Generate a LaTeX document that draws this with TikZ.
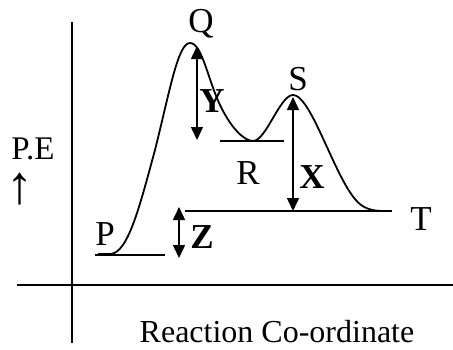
\documentclass[tikz,border=0pt]{standalone}
\usepackage{fontspec}
\setmainfont{Liberation Serif}
\usetikzlibrary{arrows.meta}
\begin{document}
\begin{tikzpicture}[x=1pt,y=-1pt,
  lbl/.style={font=\fontsize{35}{38}\selectfont, inner sep=0pt},
  blbl/.style={font=\fontsize{35}{38}\selectfont\bfseries, inner sep=0pt},
  axis/.style={line width=1.6pt},
  curve/.style={line width=1.8pt},
  level/.style={line width=1.8pt},
  dbl/.style={line width=1.5pt, {Triangle[length=13pt,width=12pt]}-{Triangle[length=13pt,width=12pt]}}]
\useasboundingbox (0,0) rectangle (453,349);
% axes
\coordinate (vt) at (72,22);
\coordinate (vb) at (72,343);
\coordinate (hl) at (17,285);
\coordinate (hr) at (453,285);
\draw[axis] (vt) -- (vb);
\draw[axis] (hl) -- (hr);
% levels
\coordinate (p1) at (95,255); \coordinate (p2) at (165,255);
\coordinate (r1) at (220,141); \coordinate (r2) at (284,141);
\coordinate (t1) at (185,211); \coordinate (t2) at (392,211);
\draw[level] (p1) -- (p2);
\draw[level] (r1) -- (r2);
\draw[level] (t1) -- (t2);
% curve
\draw[curve] (98,254) -- (110,254) .. controls (128,254) and (140,205) .. (155,150)
  .. controls (170,90) and (178,43) .. (190,43)
  .. controls (202,43) and (208,80) .. (220,105)
  .. controls (232,130) and (245,141) .. (253,141)
  .. controls (266,141) and (280,95) .. (293,95)
  .. controls (308,95) and (326,150) .. (345,184)
  .. controls (358,207) and (366,211) .. (385,211);
% arrows
\coordinate (ya) at (197,46); \coordinate (yb) at (197,140);
\coordinate (xa) at (293,97); \coordinate (xb) at (293,211);
\coordinate (za) at (179,207); \coordinate (zb) at (179,258);
\draw[dbl] (ya) -- (yb);
\draw[dbl] (xa) -- (xb);
\draw[dbl] (za) -- (zb);
% labels
\node[lbl] (Q) at (201,24) {Q};
\node[lbl] (S) at (298,79) {S};
\node[blbl] (Y) at (212,101) {Y};
\node[lbl] (R) at (248,173) {R};
\node[blbl] (X) at (312,177) {X};
\node[lbl] (T) at (421,219) {T};
\node[lbl] (P) at (105,234) {P};
\node[blbl] (Z) at (202,237) {Z};
\node[font=\fontsize{33}{36}\selectfont, inner sep=0pt] (PE) at (33,149) {P.E};
\node[font=\fontsize{54}{58}\selectfont, inner sep=0pt] (up) at (20,189) {↑};
\node[font=\fontsize{32}{36}\selectfont, inner sep=0pt] (rc) at (277,332) {Reaction Co-ordinate};
\end{tikzpicture}
\end{document}
